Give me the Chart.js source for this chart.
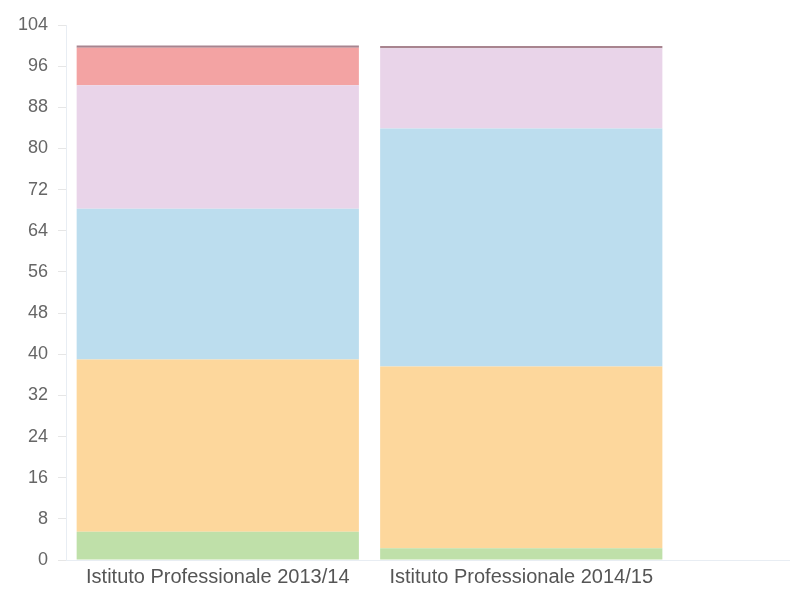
<!DOCTYPE html>
<html>
<head>
<meta charset="utf-8">
<script src="https://cdn.jsdelivr.net/npm/chart.js@4.4.0/dist/chart.umd.min.js"></script>
<style>
  html, body { margin: 0; padding: 0; background: #fff; }
  #wrap { width: 792px; height: 594px; }
</style>
</head>
<body>
<div id="wrap"><canvas id="chartCanvas" width="792" height="594"></canvas></div>
<script>
// categorie e valori (percentuali)
const labels = ["Istituto Professionale 2013/14", "Istituto Professionale 2014/15"];
const verde = [5.5, 2.3];
const arancio = [33.5, 35.3];
const azzurro = [29.3, 46.3];
const rosa = [24.0, 15.6];
const rosso = [7.3, 0];
const scuro = [0.4, 0.4];

const yTicks = { min: 0, max: 104, step: 8 };

// linea di base estesa fino al bordo destro
const baseLine = {
  id: 'baseLine',
  afterDraw(chart) {
    const ctx = chart.ctx;
    const a = chart.chartArea;
    ctx.save();
    ctx.strokeStyle = '#e8edf3';
    ctx.lineWidth = 1;
    ctx.beginPath();
    ctx.moveTo(a.right, a.bottom + 0.5);
    ctx.lineTo(chart.width - 2, a.bottom + 0.5);
    ctx.stroke();
    ctx.restore();
  }
};

const ds = (label, data, color) => ({
  label, data, backgroundColor: color, borderWidth: 0,
  barPercentage: 0.93, categoryPercentage: 1.0
});

new Chart(document.getElementById('chartCanvas'), {
  type: 'bar',
  data: {
    labels,
    datasets: [
      ds('Verde', verde, '#bfe0a9'),
      ds('Arancio', arancio, '#fdd79c'),
      ds('Azzurro', azzurro, '#bcddee'),
      ds('Rosa', rosa, '#e9d4e9'),
      ds('Rosso', rosso, '#f3a3a3'),
      ds('Scuro', scuro, '#a8848f')
    ]
  },
  options: {
    responsive: false,
    animation: false,
    layout: { padding: { left: 8, right: 119, top: 25, bottom: 0 } },
    plugins: { legend: { display: false }, tooltip: { enabled: false } },
    scales: {
      x: {
        stacked: true,
        grid: { display: false, drawTicks: false },
        border: { display: true, color: '#e8edf3' },
        ticks: { color: '#555', font: { family: 'Liberation Sans', size: 20 }, maxRotation: 0, padding: 5 }
      },
      y: {
        stacked: true,
        min: yTicks.min,
        max: yTicks.max,
        grid: { drawOnChartArea: false, color: '#e6e6e6', tickLength: 8 },
        border: { display: true, color: '#e8edf3' },
        ticks: {
          stepSize: yTicks.step,
          color: '#666',
          padding: 10,
          font: { family: 'Liberation Sans', size: 18 }
        }
      }
    }
  },
  plugins: [baseLine]
});
</script>
</body>
</html>
